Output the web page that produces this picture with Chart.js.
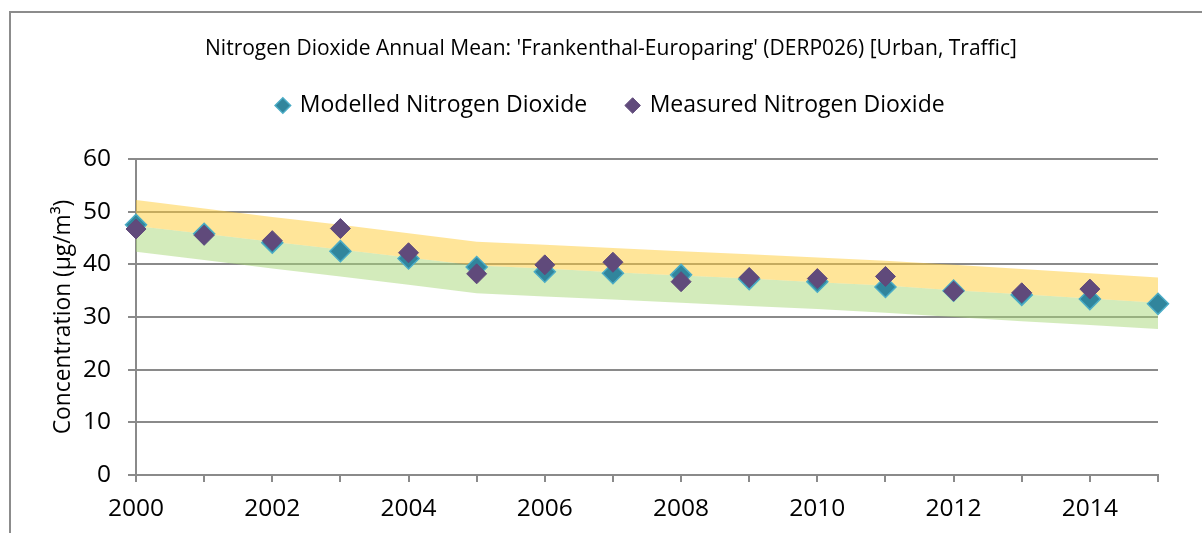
<!DOCTYPE html>
<html>
  <head>
    <title>Nitrogen Dioxide Annual Mean</title>
    <style>
      body { margin: 0; background: #fff; }
      #wrap { width: 1202px; height: 533px; position: relative; }
    </style>
  </head>
  <body>
    <div id="wrap"><canvas id="no2Chart"></canvas></div>

    <script src="https://cdn.jsdelivr.net/npm/chart.js"></script>
    <script>
      // years on the x axis
      const years = [2000, 2001, 2002, 2003, 2004, 2005, 2006, 2007, 2008, 2009, 2010, 2011, 2012, 2013, 2014, 2015];

      // modelled and measured annual means (µg/m³)
      const modelled = [47.5, 45.8, 44.1, 42.5, 41.1, 39.5, 38.6, 38.3, 38.0, 37.2, 36.7, 35.7, 35.0, 34.2, 33.4, 32.5];
      const measured = [46.7, 45.5, 44.5, 46.8, 42.2, 38.2, 39.9, 40.4, 36.7, 37.5, 37.3, 37.7, 34.9, 34.6, 35.3];

      // shaded range: lower edge, middle line, upper edge
      const bandLower = [42.4, 40.8, 39.2, 37.7, 36.1, 34.5, 33.9, 33.3, 32.7, 32.1, 31.5, 30.8, 30.0, 29.2, 28.5, 27.7];
      const bandMid = [47.3, 45.8, 44.3, 42.8, 41.3, 39.8, 39.2, 38.5, 37.9, 37.3, 36.6, 36.0, 35.1, 34.3, 33.5, 32.7];
      const bandUpper = [52.2, 50.6, 49.0, 47.5, 45.9, 44.3, 43.7, 43.1, 42.5, 41.9, 41.3, 40.7, 39.9, 39.1, 38.3, 37.5];

      const yTicks = [0, 10, 20, 30, 40, 50, 60];

      const gridColor = "#8a8a8a";
      const toPoints = (arr) => arr.map((v, i) => ({ x: years[i], y: v }));

      Chart.defaults.font.family = "'Open Sans', sans-serif";
      Chart.defaults.color = "#000";

      // thin frame round the chart (top and left edge)
      const framePlugin = {
        id: "frame",
        beforeDraw(chart) {
          const ctx = chart.ctx;
          ctx.save();
          ctx.strokeStyle = "#8c8c8c";
          ctx.lineWidth = 2;
          ctx.beginPath();
          ctx.moveTo(10, 533);
          ctx.lineTo(10, 12);
          ctx.lineTo(1202, 12);
          ctx.stroke();
          ctx.restore();
        },
      };

      const bandLine = {
        type: "line",
        pointRadius: 0,
        borderWidth: 0,
        tension: 0,
      };

      new Chart(document.getElementById("no2Chart"), {
        type: "line",
        data: {
          datasets: [
            { ...bandLine, label: "lower", data: toPoints(bandLower), fill: false, order: 4 },
            { ...bandLine, label: "mid", data: toPoints(bandMid), fill: "-1", backgroundColor: "rgba(167,215,119,0.5)", order: 3 },
            { ...bandLine, label: "upper", data: toPoints(bandUpper), fill: "-1", backgroundColor: "rgba(255,203,51,0.5)", order: 2 },
            {
              label: "Modelled Nitrogen Dioxide",
              data: toPoints(modelled),
              showLine: false,
              pointStyle: "rectRot",
              pointRadius: 10.5,
              borderWidth: 1.5,
              backgroundColor: "#31859c",
              borderColor: "#4bacc6",
              clip: false,
              order: 1,
            },
            {
              label: "Measured Nitrogen Dioxide",
              data: toPoints(measured),
              showLine: false,
              pointStyle: "rectRot",
              pointRadius: 10,
              borderWidth: 1,
              backgroundColor: "#604a7b",
              borderColor: "#604a7b",
              clip: false,
              order: 0,
            },
          ],
        },
        options: {
          responsive: true,
          maintainAspectRatio: false,
          animation: false,
          events: [],
          layout: { padding: { top: 0, left: 64, right: 44, bottom: 0 } },
          plugins: {
            title: {
              display: true,
              text: "Nitrogen Dioxide Annual Mean: 'Frankenthal-Europaring' (DERP026) [Urban, Traffic]",
              font: { size: 21, weight: "normal", lineHeight: 0.5 },
              padding: { top: 43.5, bottom: 0 },
            },
            legend: {
              weight: 1800,
              labels: {
                filter: (item) => item.datasetIndex >= 3,
                sort: (a, b) => a.datasetIndex - b.datasetIndex,
                usePointStyle: true,
                boxWidth: 11,
                boxHeight: 11,
                padding: 40,
                font: { size: 23 },
              },
            },
            // empty spacer between legend and plot area
            subtitle: {
              display: true,
              text: "",
              font: { size: 10, lineHeight: 1.2 },
              padding: { top: 0, bottom: 20 },
            },
            tooltip: { enabled: false },
          },
          scales: {
            x: {
              type: "linear",
              min: years[0],
              max: years[years.length - 1],
              afterFit: (scale) => { scale.height = 58; },
              ticks: {
                stepSize: 1,
                autoSkip: false,
                maxRotation: 0,
                padding: 12,
                font: { size: 24.5 },
                callback: (v) => (v % 2 === 0 ? String(v) : ""),
              },
              grid: { drawOnChartArea: false, tickLength: 7, color: gridColor, lineWidth: 2 },
              border: { color: gridColor, width: 2 },
            },
            y: {
              min: 0,
              max: 60,
              afterFit: (scale) => { scale.width = 72; },
              afterBuildTicks: (scale) => { scale.ticks = yTicks.map((v) => ({ value: v })); },
              ticks: { padding: 17, font: { size: 24.5 } },
              grid: { tickLength: 8, color: gridColor, lineWidth: 2 },
              border: { color: gridColor, width: 2 },
              title: {
                display: true,
                text: "Concentration (µg/m³)",
                font: { size: 22.8, lineHeight: 1.2 },
                padding: { top: -14, bottom: 0 },
              },
            },
          },
        },
        plugins: [framePlugin],
      });
    </script>
  </body>
</html>
